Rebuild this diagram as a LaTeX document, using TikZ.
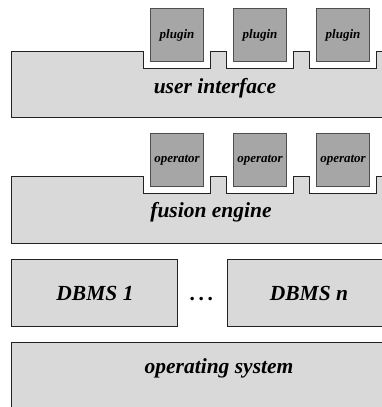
\documentclass[tikz,border=0pt]{standalone}
\usepackage{fontspec}
\setmainfont{Liberation Serif}
\definecolor{layerfill}{HTML}{D9D9D9}
\definecolor{modfill}{HTML}{A6A6A6}
\definecolor{edge}{HTML}{222222}
\tikzset{
  layer/.style={draw=edge, line width=1pt, fill=layerfill},
  module/.style={draw=edge!80, line width=1pt, fill=modfill, minimum width=53pt, minimum height=53pt,
    inner sep=0pt, anchor=north west, font=\fontsize{13}{13}\selectfont\bfseries\itshape},
  bigtext/.style={font=\fontsize{21.5}{22}\selectfont\bfseries\itshape, inner sep=0pt},
}
\begin{document}
\begin{tikzpicture}[x=1pt, y=-1pt]
\useasboundingbox (0,0) rectangle (382,407);
\clip (0,0) rectangle (382,407);

% user interface layer with three plugin slots
\draw[layer] (11,117) -- (11,51) -- (143,51) -- (143,68) -- (210,68) -- (210,51)
  -- (226,51) -- (226,68) -- (293,68) -- (293,51) -- (309,51) -- (309,68)
  -- (376,68) -- (376,51) -- (425,51) -- (425,117) -- cycle;
\node[module] (p1) at (150,8) {plugin};
\node[module] (p2) at (233,8) {plugin};
\node[module] (p3) at (316,8) {plugin};
\node[bigtext] (ui) at (215,88) {user interface};

% fusion engine layer with three operator slots
\draw[layer] (11,243.3) -- (11,176.7) -- (143,176.7) -- (143,193.3) -- (210,193.3) -- (210,176.7)
  -- (226,176.7) -- (226,193.3) -- (293,193.3) -- (293,176.7) -- (309,176.7) -- (309,193.3)
  -- (376,193.3) -- (376,176.7) -- (425,176.7) -- (425,243.3) -- cycle;
\node[module] (o1) at (150,133.3) {operator};
\node[module] (o2) at (233,133.3) {operator};
\node[module] (o3) at (316,133.3) {operator};
\node[bigtext] (fe) at (211,212) {fusion engine};

% database systems
\draw[layer] (11,259.3) rectangle (177,326);
\node[bigtext] (db1) at (95,293) {DBMS 1};
\draw[layer] (227,259.3) rectangle (425,326);
\node[bigtext] (dbn) at (309,293) {DBMS n};
\node[bigtext, anchor=base] (dots) at (202,300.5) {.\,.\,.};

% operating system
\draw[layer] (11,342) rectangle (425,430);
\node[bigtext] (os) at (219,368) {operating system};
\end{tikzpicture}
\end{document}
